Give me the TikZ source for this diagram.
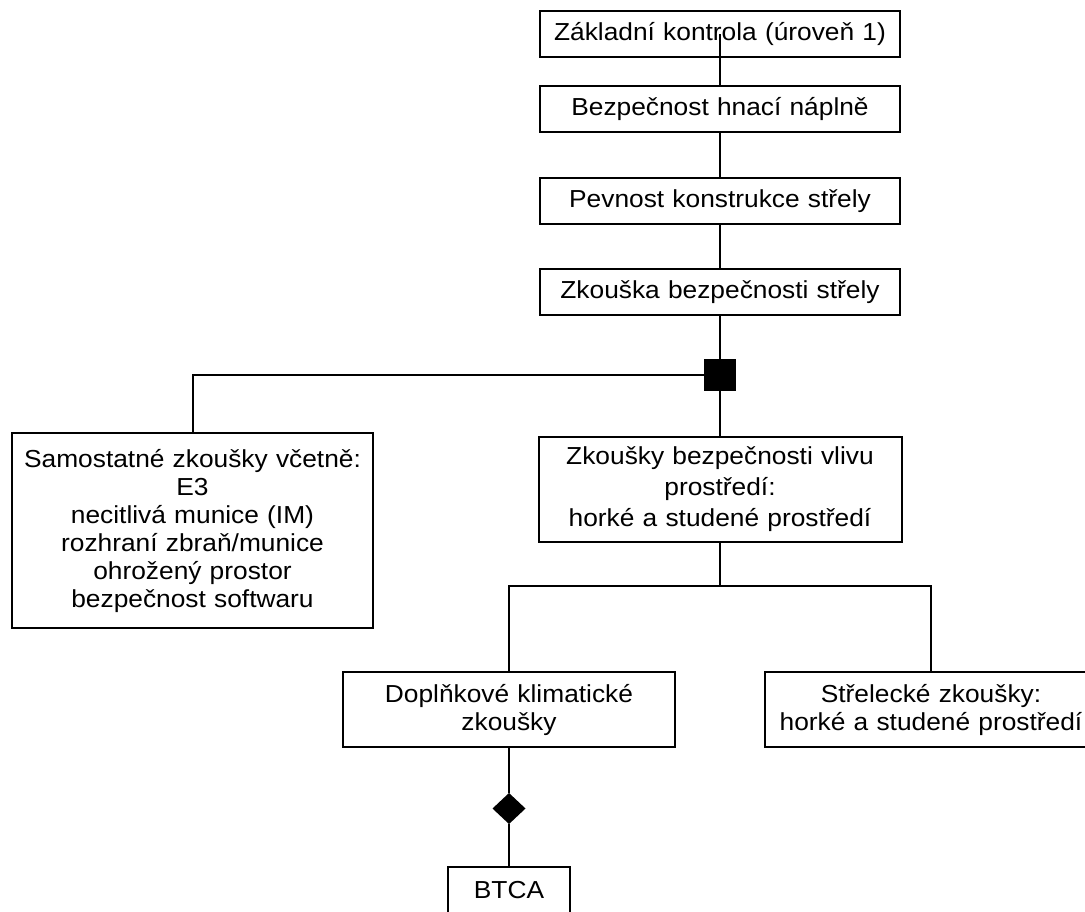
\documentclass[tikz,border=0pt]{standalone}
\usepackage{fontspec}
\setmainfont{Liberation Sans}[FakeStretch=1.07]
\usetikzlibrary{positioning,shapes.geometric}
\tikzset{
  link/.style={draw=black, line width=1pt},
  test box/.style={draw=black, line width=1pt, fill=white, align=center,
    inner sep=2pt, outer sep=0pt, font=\fontsize{12.3}{14}\selectfont},
  stage box/.style={test box, text width=176pt, minimum height=23pt},
  junction mark/.style={rectangle, fill=black, minimum size=16pt,
    inner sep=0pt, outer sep=0pt},
  choice mark/.style={diamond, fill=black, minimum width=16.5pt,
    minimum height=15.5pt, inner sep=0pt, outer sep=0pt}
}

\begin{document}
\begin{tikzpicture}[x=0.5pt, y=-0.5pt]
  \useasboundingbox (0,0) rectangle (1085,911);
  \node[stage box] (basic) at (720,34) {Základní kontrola (úroveň 1)};
  \node[stage box, below=14.5pt of basic] (charge) {Bezpečnost hnací náplně};
  \node[stage box, below=23pt of charge] (strength) {Pevnost konstrukce střely};
  \node[stage box, below=22.5pt of strength] (shellsafety) {Zkouška bezpečnosti střely};
  \node[junction mark, below=22pt of shellsafety] (junction) {};
  \node[test box, text width=177.5pt, minimum height=52.5pt, below=23pt of junction,
    font=\fontsize{12.3}{15.5}\selectfont]
    (environment) {Zkoušky bezpečnosti vlivu\\prostředí:\\horké a studené prostředí};
  \node[test box, text width=176.5pt, minimum height=97.5pt, anchor=north]
    (separate) at (192.5,433) {Samostatné zkoušky včetně:\\E3\\necitlivá munice (IM)\\rozhraní zbraň/munice\\ohrožený prostor\\bezpečnost softwaru};
  \coordinate[below=22pt of environment] (split);
  \node[test box, text width=162pt, minimum height=37.5pt] (climate) at (509,709.5)
    {Doplňkové klimatické\\zkoušky};
  \node[test box, text width=162pt, minimum height=37.5pt, right=45pt of climate]
    (firing) {Střelecké zkoušky:\\horké a studené prostředí};
  \node[choice mark, below=23pt of climate] (choice) {};
  \node[test box, text width=57pt, minimum height=23pt, below=21.5pt of choice]
    (btca) {BTCA};
  \draw[link] (charge.north) -- (charge.north |- basic.center);
  \draw[link] (charge) -- (strength);
  \draw[link] (strength) -- (shellsafety);
  \draw[link] (shellsafety) -- (junction);
  \draw[link] (junction) -- (environment);
  \draw[link] (junction.west) -| (separate.north);
  \draw[link] (environment.south) -- (split);
  \draw[link] (climate.north) |- (split) -| (firing.north);
  \draw[link] (climate) -- (choice);
  \draw[link] (choice) -- (btca);
\end{tikzpicture}
\end{document}
